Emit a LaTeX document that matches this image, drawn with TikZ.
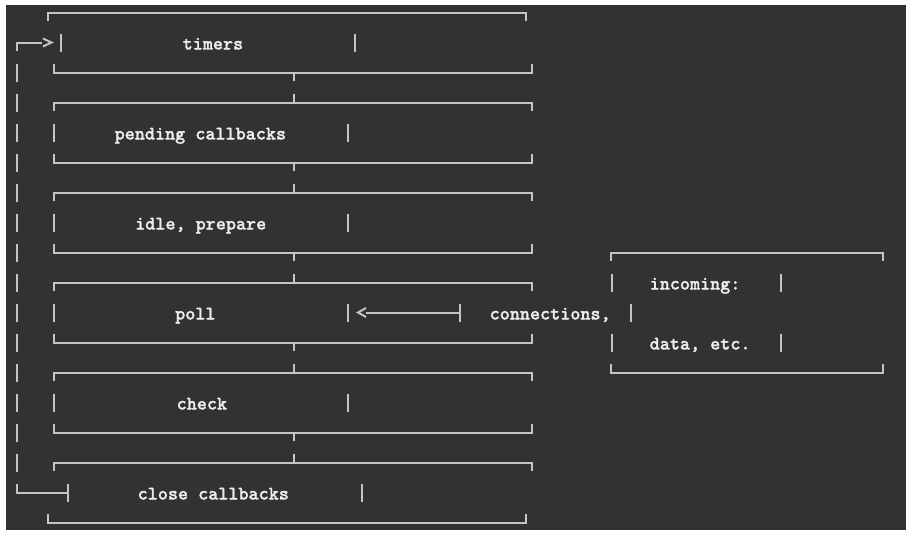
\documentclass[tikz,border=0pt]{standalone}
\usepackage{fontspec}
\newfontfamily\monobold{lmmonolt10-bold}[Extension=.otf, FakeBold=1.3]
\definecolor{bgdark}{HTML}{323232}
\definecolor{linegrey}{HTML}{C4C4C4}
\definecolor{textgrey}{HTML}{EDEDED}
\tikzset{
  ln/.style={draw=linegrey, line width=2pt},
  lbl/.style={inner sep=0pt, anchor=base west, text=textgrey,
    font=\fontsize{19.2}{20}\selectfont\monobold}
}
\begin{document}
\begin{tikzpicture}[x=1pt,y=-1pt]
\useasboundingbox (0,0) rectangle (921,539);
\fill[white] (0,0) rectangle (921,539);
\fill[bgdark] (6,5) rectangle (906,530);

% ---- box 1: timers ----
\draw[ln] (48,21) -- (48,12.5) -- (525.7,12.5) -- (525.7,21);
\draw[ln] (60.5,33.5) -- (60.5,51.5);
\draw[ln] (354.7,33.5) -- (354.7,51.5);
\draw[ln] (54.3,64) -- (54.3,72.5) -- (532,72.5) -- (532,64);
\draw[ln] (293.7,72.5) -- (293.7,81);
\node[lbl] (timers) at (182.5,49.5) {timers};

% ---- boxes 2..5 ----
\foreach \k/\rx in {1/348,2/348,3/347.7,4/348}{
  \pgfmathsetmacro{\yT}{12.5+90*\k}
  \pgfmathsetmacro{\yM}{\yT+30}
  \pgfmathsetmacro{\yB}{\yT+60}
  \draw[ln] (293.7,\yT-8.5) -- (293.7,\yT);
  \draw[ln] (54.3,\yT+8.5) -- (54.3,\yT) -- (532,\yT) -- (532,\yT+8.5);
  \draw[ln] (54.3,\yM-9) -- (54.3,\yM+9);
  \draw[ln] (\rx,\yM-9) -- (\rx,\yM+9);
  \draw[ln] (54.3,\yB-8.5) -- (54.3,\yB) -- (532,\yB) -- (532,\yB-8.5);
  \draw[ln] (293.7,\yB) -- (293.7,\yB+8.5);
}
\node[lbl] (pending) at (114.5,139.5) {pending callbacks};
\node[lbl] (idle) at (135,229.5) {idle, prepare};
\node[lbl] (poll) at (175,319.5) {poll};
\node[lbl] (check) at (176.5,409.5) {check};

% ---- box 6: close callbacks ----
\draw[ln] (293.7,454) -- (293.7,462.5);
\draw[ln] (54.3,471) -- (54.3,462.5) -- (532,462.5) -- (532,471);
\draw[ln] (361.7,483.5) -- (361.7,501.5);
\draw[ln] (48.3,514) -- (48.3,522.5) -- (525.7,522.5) -- (525.7,514);
\node[lbl] (close) at (137.5,499.5) {close callbacks};

% ---- loop on the left ----
\draw[ln] (17,51) -- (17,42.5) -- (41.7,42.5);
\draw[ln, line join=miter] (43,38.5) -- (51.5,42.5) -- (43,46.5);
\foreach \k in {2,...,15}{
  \pgfmathsetmacro{\yy}{12.5+30*\k}
  \draw[ln] (17,\yy-9) -- (17,\yy+9);
}
\coordinate (loopend) at (67.7,492.5);
\draw[ln] (17,483.5) -- (17,492.5) -- (loopend);
\draw[ln] (67.7,483.5) -- (67.7,501.5);

% ---- incoming box on the right ----
\draw[ln] (610.7,261) -- (610.7,252.5) -- (883.3,252.5) -- (883.3,261);
\draw[ln] (611.7,273.5) -- (611.7,291.5);
\draw[ln] (780.7,273.5) -- (780.7,291.5);
\draw[ln] (631,303.5) -- (631,321.5);
\draw[ln] (611.7,333.5) -- (611.7,351.5);
\draw[ln] (780.7,333.5) -- (780.7,351.5);
\draw[ln] (610.7,364) -- (610.7,372.5) -- (883.3,372.5) -- (883.3,364);
\node[lbl] (incoming) at (649.5,289.5) {incoming:};
\node[lbl] (conn) at (489.5,319.5) {connections,};
\node[lbl] (data) at (649.5,349.5) {data, etc.};

% ---- arrow into poll ----
\coordinate (arrtail) at (460,312.5);
\coordinate (arrhead) at (366,312.5);
\draw[ln] (arrtail) -- (arrhead);
\draw[ln, line join=miter] (366,308) -- (358,312.5) -- (366,317);
\draw[ln] (460,303.5) -- (460,321.5);
\end{tikzpicture}
\end{document}
